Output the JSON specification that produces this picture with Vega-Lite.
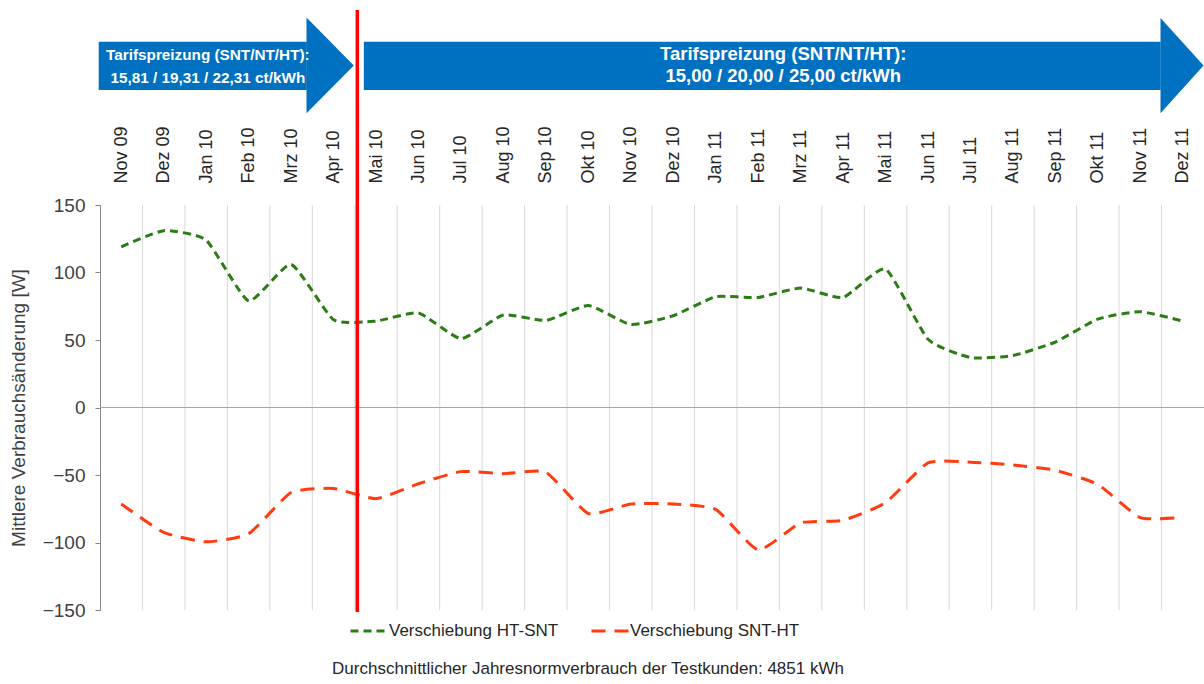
{
  "$schema": "https://vega.github.io/schema/vega-lite/v6.json",
  "width": 1104,
  "height": 405,
  "autosize": {"type": "none"},
  "padding": {"left": 100, "top": 205, "right": 0, "bottom": 74},
  "background": "white",
  "config": {"view": {"stroke": null}, "font": "Liberation Sans"},
  "title": {
    "text": "Durchschnittlicher Jahresnormverbrauch der Testkunden: 4851 kWh",
    "orient": "bottom",
    "anchor": "middle",
    "frame": "group",
    "font": "Liberation Sans",
    "fontSize": 17,
    "fontWeight": "normal",
    "color": "#262626",
    "offset": 22,
    "dx": -64
  },
  "datasets": {
    "werte": [
      {"x": 0, "monat": "Nov 09", "serie": "Verschiebung HT-SNT", "v": 119},
      {"x": 1, "monat": "Dez 09", "serie": "Verschiebung HT-SNT", "v": 131},
      {"x": 2, "monat": "Jan 10", "serie": "Verschiebung HT-SNT", "v": 124},
      {"x": 3, "monat": "Feb 10", "serie": "Verschiebung HT-SNT", "v": 79},
      {"x": 4, "monat": "Mrz 10", "serie": "Verschiebung HT-SNT", "v": 106},
      {"x": 5, "monat": "Apr 10", "serie": "Verschiebung HT-SNT", "v": 65},
      {"x": 6, "monat": "Mai 10", "serie": "Verschiebung HT-SNT", "v": 64},
      {"x": 7, "monat": "Jun 10", "serie": "Verschiebung HT-SNT", "v": 70},
      {"x": 8, "monat": "Jul 10", "serie": "Verschiebung HT-SNT", "v": 51},
      {"x": 9, "monat": "Aug 10", "serie": "Verschiebung HT-SNT", "v": 68.5},
      {"x": 10, "monat": "Sep 10", "serie": "Verschiebung HT-SNT", "v": 64.5},
      {"x": 11, "monat": "Okt 10", "serie": "Verschiebung HT-SNT", "v": 75.5},
      {"x": 12, "monat": "Nov 10", "serie": "Verschiebung HT-SNT", "v": 61.5},
      {"x": 13, "monat": "Dez 10", "serie": "Verschiebung HT-SNT", "v": 68},
      {"x": 14, "monat": "Jan 11", "serie": "Verschiebung HT-SNT", "v": 82},
      {"x": 15, "monat": "Feb 11", "serie": "Verschiebung HT-SNT", "v": 81.5},
      {"x": 16, "monat": "Mrz 11", "serie": "Verschiebung HT-SNT", "v": 88.5},
      {"x": 17, "monat": "Apr 11", "serie": "Verschiebung HT-SNT", "v": 81.5},
      {"x": 18, "monat": "Mai 11", "serie": "Verschiebung HT-SNT", "v": 102.5},
      {"x": 19, "monat": "Jun 11", "serie": "Verschiebung HT-SNT", "v": 50.5},
      {"x": 20, "monat": "Jul 11", "serie": "Verschiebung HT-SNT", "v": 37},
      {"x": 21, "monat": "Aug 11", "serie": "Verschiebung HT-SNT", "v": 38.5},
      {"x": 22, "monat": "Sep 11", "serie": "Verschiebung HT-SNT", "v": 48.5},
      {"x": 23, "monat": "Okt 11", "serie": "Verschiebung HT-SNT", "v": 65.5},
      {"x": 24, "monat": "Nov 11", "serie": "Verschiebung HT-SNT", "v": 71},
      {"x": 25, "monat": "Dez 11", "serie": "Verschiebung HT-SNT", "v": 64},
      {"x": 0, "monat": "Nov 09", "serie": "Verschiebung SNT-HT", "v": -71.5},
      {"x": 1, "monat": "Dez 09", "serie": "Verschiebung SNT-HT", "v": -92.5},
      {"x": 2, "monat": "Jan 10", "serie": "Verschiebung SNT-HT", "v": -99.5},
      {"x": 3, "monat": "Feb 10", "serie": "Verschiebung SNT-HT", "v": -93.5},
      {"x": 4, "monat": "Mrz 10", "serie": "Verschiebung SNT-HT", "v": -63},
      {"x": 5, "monat": "Apr 10", "serie": "Verschiebung SNT-HT", "v": -60},
      {"x": 6, "monat": "Mai 10", "serie": "Verschiebung SNT-HT", "v": -67.5},
      {"x": 7, "monat": "Jun 10", "serie": "Verschiebung SNT-HT", "v": -56.5},
      {"x": 8, "monat": "Jul 10", "serie": "Verschiebung SNT-HT", "v": -47.5},
      {"x": 9, "monat": "Aug 10", "serie": "Verschiebung SNT-HT", "v": -49},
      {"x": 10, "monat": "Sep 10", "serie": "Verschiebung SNT-HT", "v": -48},
      {"x": 11, "monat": "Okt 10", "serie": "Verschiebung SNT-HT", "v": -78.5},
      {"x": 12, "monat": "Nov 10", "serie": "Verschiebung SNT-HT", "v": -71.5},
      {"x": 13, "monat": "Dez 10", "serie": "Verschiebung SNT-HT", "v": -71.5},
      {"x": 14, "monat": "Jan 11", "serie": "Verschiebung SNT-HT", "v": -75.5},
      {"x": 15, "monat": "Feb 11", "serie": "Verschiebung SNT-HT", "v": -105.5},
      {"x": 16, "monat": "Mrz 11", "serie": "Verschiebung SNT-HT", "v": -85.5},
      {"x": 17, "monat": "Apr 11", "serie": "Verschiebung SNT-HT", "v": -83.5},
      {"x": 18, "monat": "Mai 11", "serie": "Verschiebung SNT-HT", "v": -70.5},
      {"x": 19, "monat": "Jun 11", "serie": "Verschiebung SNT-HT", "v": -41},
      {"x": 20, "monat": "Jul 11", "serie": "Verschiebung SNT-HT", "v": -40.5},
      {"x": 21, "monat": "Aug 11", "serie": "Verschiebung SNT-HT", "v": -42.5},
      {"x": 22, "monat": "Sep 11", "serie": "Verschiebung SNT-HT", "v": -46.5},
      {"x": 23, "monat": "Okt 11", "serie": "Verschiebung SNT-HT", "v": -57},
      {"x": 24, "monat": "Nov 11", "serie": "Verschiebung SNT-HT", "v": -81.5},
      {"x": 25, "monat": "Dez 11", "serie": "Verschiebung SNT-HT", "v": -81.5}
    ],
    "raster": [
      {"x": 0.5}, {"x": 1.5}, {"x": 2.5}, {"x": 3.5}, {"x": 4.5}, {"x": 5.5},
      {"x": 6.5}, {"x": 7.5}, {"x": 8.5}, {"x": 9.5}, {"x": 10.5}, {"x": 11.5},
      {"x": 12.5}, {"x": 13.5}, {"x": 14.5}, {"x": 15.5}, {"x": 16.5}, {"x": 17.5},
      {"x": 18.5}, {"x": 19.5}, {"x": 20.5}, {"x": 21.5}, {"x": 22.5}, {"x": 23.5},
      {"x": 24.5}
    ],
    "nulllinie": [
      {"x": -0.5, "x2": 25.5, "v": 0}
    ],
    "pfeilschaft": [
      {"pfeil": "vorher", "x": -0.53, "x2": 4.37, "v": 271, "v2": 235.2},
      {"pfeil": "nachher", "x": 5.713, "x2": 24.48, "v": 271, "v2": 235.2}
    ],
    "pfeilspitze": [
      {"pfeil": "vorher", "x": 4.363, "v": 288.9, "v2": 217.9},
      {"pfeil": "vorher", "x": 5.477, "v": 253.4, "v2": 253.4},
      {"pfeil": "nachher", "x": 24.476, "v": 288.6, "v2": 217.9},
      {"pfeil": "nachher", "x": 25.49, "v": 253.4, "v2": 253.4}
    ],
    "pfeiltext_vorher": [
      {"x": 2.04, "v": 260.8, "t": "Tarifspreizung (SNT/NT/HT):"},
      {"x": 2.04, "v": 244.4, "t": "15,81 / 19,31 / 22,31 ct/kWh"}
    ],
    "pfeiltext_nachher": [
      {"x": 15.59, "v": 261.6, "t": "Tarifspreizung (SNT/NT/HT):"},
      {"x": 15.59, "v": 245.2, "t": "15,00 / 20,00 / 25,00 ct/kWh"}
    ],
    "wechsel": [
      {"x": 5.56, "v": 294.4, "v2": -151.5}
    ]
  },
  "layer": [
    {
      "data": {"name": "raster"},
      "mark": {"type": "rule", "color": "#d9d9d9", "strokeWidth": 1},
      "encoding": {
        "x": {"field": "x", "type": "quantitative", "scale": {"domain": [-0.5, 25.5], "nice": false, "zero": false}}
      }
    },
    {
      "data": {"name": "nulllinie"},
      "mark": {"type": "rule", "color": "#a6a6a6", "strokeWidth": 1},
      "encoding": {
        "x": {"field": "x", "type": "quantitative", "scale": {"domain": [-0.5, 25.5], "nice": false, "zero": false}},
        "x2": {"field": "x2"},
        "y": {"field": "v", "type": "quantitative", "scale": {"domain": [-150, 150], "nice": false, "zero": false}}
      }
    },
    {
      "data": {"name": "werte"},
      "mark": {"type": "line", "interpolate": "cardinal", "tension": 0.5, "strokeWidth": 3},
      "encoding": {
        "x": {
          "field": "x", "type": "quantitative",
          "scale": {"domain": [-0.5, 25.5], "nice": false, "zero": false},
          "axis": {
            "orient": "top", "title": null, "values": [0,1,2,3,4,5,6,7,8,9,10,11,12,13,14,15,16,17,18,19,20,21,22,23,24,25],
            "labelExpr": "['Nov 09','Dez 09','Jan 10','Feb 10','Mrz 10','Apr 10','Mai 10','Jun 10','Jul 10','Aug 10','Sep 10','Okt 10','Nov 10','Dez 10','Jan 11','Feb 11','Mrz 11','Apr 11','Mai 11','Jun 11','Jul 11','Aug 11','Sep 11','Okt 11','Nov 11','Dez 11'][datum.value]",
            "labelAngle": -90, "labelFontSize": 18, "labelFont": "Liberation Sans", "labelColor": "#262626",
            "labelPadding": 22, "ticks": false, "domain": false, "grid": false, "labelFlush": false, "labelOverlap": false
          }
        },
        "y": {
          "field": "v", "type": "quantitative",
          "scale": {"domain": [-150, 150], "nice": false, "zero": false},
          "axis": {
            "title": "Mittlere Verbrauchsänderung [W]", "values": [-150, -100, -50, 0, 50, 100, 150],
            "grid": false, "domainColor": "#868686", "tickColor": "#868686", "tickSize": 5,
            "labelFontSize": 19, "labelFont": "Liberation Sans", "labelColor": "#404040", "labelPadding": 10,
            "titleFontSize": 19, "titleFont": "Liberation Sans", "titleFontWeight": "normal", "titleColor": "#404040", "titlePadding": 14
          }
        },
        "color": {
          "field": "serie", "type": "nominal",
          "scale": {"domain": ["Verschiebung HT-SNT", "Verschiebung SNT-HT"], "range": ["#2a7d14", "#ff3b0f"]},
          "legend": {
            "title": null, "orient": "none", "direction": "horizontal", "legendX": 249, "legendY": 406,
            "symbolType": "stroke", "symbolSize": 1369, "symbolStrokeWidth": 3,
            "labelFontSize": 17, "labelFont": "Liberation Sans", "labelColor": "#262626", "labelOffset": 0,
            "labelLimit": 400, "columnPadding": 26
          }
        },
        "strokeDash": {
          "field": "serie", "type": "nominal",
          "scale": {"domain": ["Verschiebung HT-SNT", "Verschiebung SNT-HT"], "range": [[8, 5], [14, 9]]},
          "legend": {
            "title": null, "orient": "none", "direction": "horizontal", "legendX": 249, "legendY": 406,
            "symbolType": "stroke", "symbolSize": 1369, "symbolStrokeWidth": 3,
            "labelFontSize": 17, "labelFont": "Liberation Sans", "labelColor": "#262626", "labelOffset": 0,
            "labelLimit": 400, "columnPadding": 26
          }
        }
      }
    },
    {
      "data": {"name": "pfeilschaft"},
      "mark": {"type": "rect", "color": "#0070c0", "opacity": 1},
      "encoding": {
        "x": {"field": "x", "type": "quantitative", "scale": {"domain": [-0.5, 25.5], "nice": false, "zero": false}},
        "x2": {"field": "x2"},
        "y": {"field": "v", "type": "quantitative", "scale": {"domain": [-150, 150], "nice": false, "zero": false}},
        "y2": {"field": "v2"}
      }
    },
    {
      "data": {"name": "pfeilspitze"},
      "mark": {"type": "area", "color": "#0070c0", "opacity": 1},
      "encoding": {
        "x": {"field": "x", "type": "quantitative", "scale": {"domain": [-0.5, 25.5], "nice": false, "zero": false}},
        "y": {"field": "v", "type": "quantitative", "scale": {"domain": [-150, 150], "nice": false, "zero": false}},
        "y2": {"field": "v2"},
        "detail": {"field": "pfeil", "type": "nominal"}
      }
    },
    {
      "data": {"name": "pfeiltext_vorher"},
      "mark": {"type": "text", "color": "white", "fontWeight": "bold", "fontSize": 15.3, "font": "Liberation Sans", "align": "center", "baseline": "middle"},
      "encoding": {
        "x": {"field": "x", "type": "quantitative", "scale": {"domain": [-0.5, 25.5], "nice": false, "zero": false}},
        "y": {"field": "v", "type": "quantitative", "scale": {"domain": [-150, 150], "nice": false, "zero": false}},
        "text": {"field": "t", "type": "nominal"}
      }
    },
    {
      "data": {"name": "pfeiltext_nachher"},
      "mark": {"type": "text", "color": "white", "fontWeight": "bold", "fontSize": 18.5, "font": "Liberation Sans", "align": "center", "baseline": "middle"},
      "encoding": {
        "x": {"field": "x", "type": "quantitative", "scale": {"domain": [-0.5, 25.5], "nice": false, "zero": false}},
        "y": {"field": "v", "type": "quantitative", "scale": {"domain": [-150, 150], "nice": false, "zero": false}},
        "text": {"field": "t", "type": "nominal"}
      }
    },
    {
      "data": {"name": "wechsel"},
      "mark": {"type": "rule", "color": "#ff0000", "strokeWidth": 3.5},
      "encoding": {
        "x": {"field": "x", "type": "quantitative", "scale": {"domain": [-0.5, 25.5], "nice": false, "zero": false}},
        "y": {"field": "v", "type": "quantitative", "scale": {"domain": [-150, 150], "nice": false, "zero": false}},
        "y2": {"field": "v2"}
      }
    }
  ]
}
